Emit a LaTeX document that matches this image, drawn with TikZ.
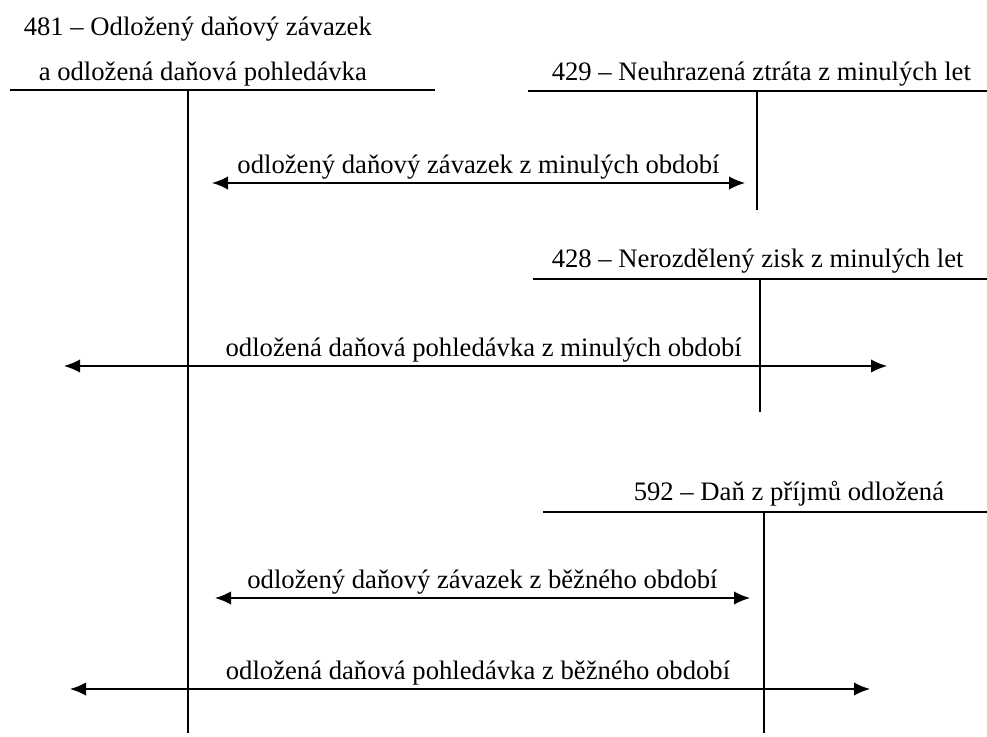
\documentclass[tikz,border=0pt]{standalone}
\usepackage{fontspec}
\setmainfont{Liberation Serif}
\usetikzlibrary{arrows.meta}

\tikzset{every picture/.style={line width=1.2pt}}
\tikzset{
  acctitle/.style={anchor=base west,inner sep=0.75pt,font=\fontsize{20}{24}\selectfont},
  flowlabel/.style={above,inner sep=2pt,font=\fontsize{20}{24}\selectfont},
  flow/.style={{Latex[length=12pt,width=10pt]}-{Latex[length=12pt,width=10pt]}}
}

\begin{document}
\begin{tikzpicture}[x=0.75pt,y=0.75pt,yscale=-1]
\useasboundingbox (0,0) rectangle (987,737);
% ucet 481
\node[acctitle] (t481a) at (22,36) {481 -- Odložený daňový závazek};
\node[acctitle] (t481b) at (37,81) {a odložená daňová pohledávka};
\coordinate (h481l) at (10,90);
\coordinate (h481r) at (435,90);
\coordinate (v481t) at (188,90);
\coordinate (v481b) at (188,733);
\draw (h481l) -- (h481r);
\draw (v481t) -- (v481b);
% ucet 429
\node[acctitle] (t429) at (550,81) {429 -- Neuhrazená ztráta z minulých let};
\coordinate (h429l) at (528,91);
\coordinate (h429r) at (987,91);
\coordinate (v429t) at (757,91);
\coordinate (v429b) at (757,210);
\draw (h429l) -- (h429r);
\draw (v429t) -- (v429b);
% ucet 428
\node[acctitle] (t428) at (550,268) {428 -- Nerozdělený zisk z minulých let};
\coordinate (h428l) at (533,279);
\coordinate (h428r) at (987,279);
\coordinate (v428t) at (760,279);
\coordinate (v428b) at (760,412);
\draw (h428l) -- (h428r);
\draw (v428t) -- (v428b);
% ucet 592
\node[acctitle] (t592) at (632,500) {592 -- Daň z příjmů odložená};
\coordinate (h592l) at (543,512);
\coordinate (h592r) at (987,512);
\coordinate (v592t) at (764,512);
\coordinate (v592b) at (764,733);
\draw (h592l) -- (h592r);
\draw (v592t) -- (v592b);
% sipky
\coordinate (a1l) at (212,183);
\coordinate (a1r) at (745,183);
\draw[flow] (a1l) -- (a1r) node[flowlabel,midway] (l1) {odložený daňový závazek z minulých období};
\coordinate (a2l) at (64,366);
\coordinate (a2r) at (887,366);
\draw[flow] (a2l) -- (a2r) node[flowlabel,pos=0.51] (l2) {odložená daňová pohledávka z minulých období};
\coordinate (a3l) at (215,598);
\coordinate (a3r) at (750,598);
\draw[flow] (a3l) -- (a3r) node[flowlabel,midway] (l3) {odložený daňový závazek z běžného období};
\coordinate (a4l) at (70,689);
\coordinate (a4r) at (870,689);
\draw[flow] (a4l) -- (a4r) node[flowlabel,pos=0.51] (l4) {odložená daňová pohledávka z běžného období};
\end{tikzpicture}
\end{document}
